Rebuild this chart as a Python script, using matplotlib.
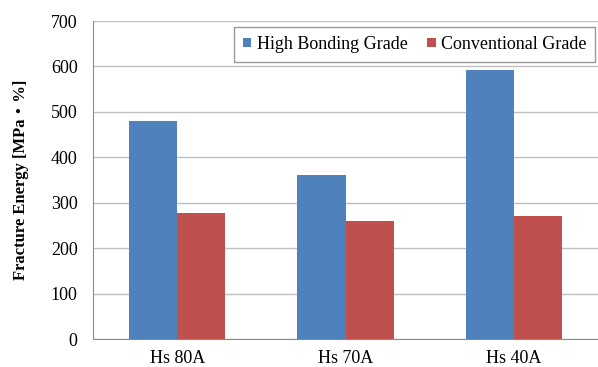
import matplotlib
matplotlib.use("Agg")
import matplotlib.pyplot as plt
import numpy as np

categories = ["Hs 80A", "Hs 70A", "Hs 40A"]
high_bonding = [480, 362, 593]
conventional = [278, 259, 271]
series_names = ["High Bonding Grade", "Conventional Grade"]
yticks = [0, 100, 200, 300, 400, 500, 600, 700]

plt.rcParams['font.family'] = ['Liberation Serif', 'Noto Sans CJK JP']

fig = plt.figure(figsize=(5.98, 3.67), dpi=100)
ax = fig.add_axes([93/598, 28/367, 505/598, 318/367])

x = np.arange(len(categories))
w = 1/3.5
ax.bar(x - w/2, high_bonding, width=w, color="#4F81BD", label=series_names[0], zorder=3)
ax.bar(x + w/2, conventional, width=w, color="#C0504D", label=series_names[1], zorder=3)

ax.set_xlim(-0.5, 2.5)
ax.set_ylim(0, 700)
ax.set_yticks(yticks)
ax.set_yticklabels([str(t) for t in yticks], fontsize=13)
ax.set_xticks(x)
ax.set_xticklabels(categories, fontsize=13)
ax.tick_params(axis='both', length=0)
ax.tick_params(axis='y', pad=11)
ax.tick_params(axis='x', pad=8)
ax.grid(axis='y', color="#BFBFBF", linewidth=1.0, zorder=0)
for s in ['top', 'right']:
    ax.spines[s].set_visible(False)
ax.spines['left'].set_color("#8C8C8C")
ax.spines['bottom'].set_color("#8C8C8C")

ax.set_ylabel("Fracture Energy [MPa・%]", fontsize=12, fontweight='bold', labelpad=16)

leg = ax.legend(loc='upper right', bbox_to_anchor=(0.995, 0.981), ncol=2, frameon=True,
                fancybox=False, fontsize=13, handlelength=0.45, handleheight=0.45,
                handletextpad=0.3, columnspacing=1.1, borderpad=0.5, borderaxespad=0)
leg.get_frame().set_edgecolor("#808080")
leg.get_frame().set_linewidth(1.0)

fig.savefig("out.png", dpi=100)
